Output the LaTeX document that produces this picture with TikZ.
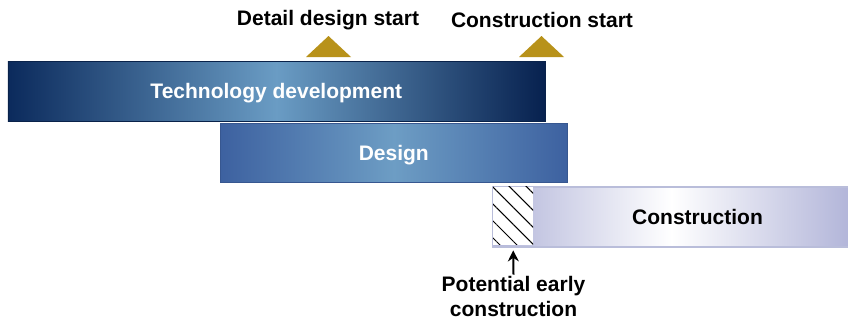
\documentclass[tikz,border=0pt]{standalone}
\usepackage{fontspec}
\setmainfont{Liberation Sans}
\usetikzlibrary{arrows.meta,patterns.meta}
\definecolor{navy}{HTML}{0B2A5C}
\definecolor{navyr}{HTML}{07214F}
\definecolor{navyc}{HTML}{6A9CC4}
\definecolor{desedge}{HTML}{3D61A0}
\definecolor{desc}{HTML}{6D9DC4}
\definecolor{lav}{HTML}{B2B5D9}
\definecolor{lavb}{HTML}{B9BDDA}
\definecolor{gold}{HTML}{B8921A}
\tikzset{
  bar/.style={anchor=north west, inner sep=0pt, text depth=0pt, font=\fontsize{21}{24}\selectfont\bfseries},
  lbl/.style={font=\fontsize{21}{25}\selectfont\bfseries, inner sep=0pt, align=center},
  marker/.style={fill=gold, draw=none}
}
\begin{document}
\begin{tikzpicture}[x=1pt,y=-1pt]
\useasboundingbox (0,0) rectangle (848,322);
\node[bar, minimum width=537pt, minimum height=60pt, left color=navy, right color=navyr, middle color=navyc, text=white, draw=navy!80!black, line width=0.6pt] (tech) at (7.5,61) {Technology development};
\node[bar, minimum width=347pt, minimum height=59pt, left color=desedge, right color=desedge, middle color=desc, text=white, draw=desedge!90!black, line width=0.6pt] (design) at (220,123) {Design};
\node[bar, minimum width=357pt, minimum height=60pt, left color=lav, right color=lav, middle color=white, text=black, draw=lavb, line width=2pt] (constr) at (492,185.5) {\hspace*{52pt}Construction};
\node[anchor=north west, inner sep=0pt, minimum width=40pt, minimum height=58pt, fill=white, draw=none, postaction={pattern={Lines[angle=-45,distance=12pt,line width=1pt]}}] (hatch) at (493,186.5) {};
\node[lbl] (dds) at (328,20) {Detail design start};
\node[lbl] (cs) at (542,20) {Construction start};
\fill[marker] (306,57) -- (328.5,36) -- (351,57) -- cycle;
\fill[marker] (519,57) -- (541.5,36) -- (564,57) -- cycle;
\node[lbl] (pec) at (513.5,296) {Potential early\\construction};
\draw[-{Stealth[length=11pt,width=11pt]}, line width=2pt] ([yshift=1pt]pec.north) -- ([yshift=-5.5pt]hatch.south);
\end{tikzpicture}
\end{document}
